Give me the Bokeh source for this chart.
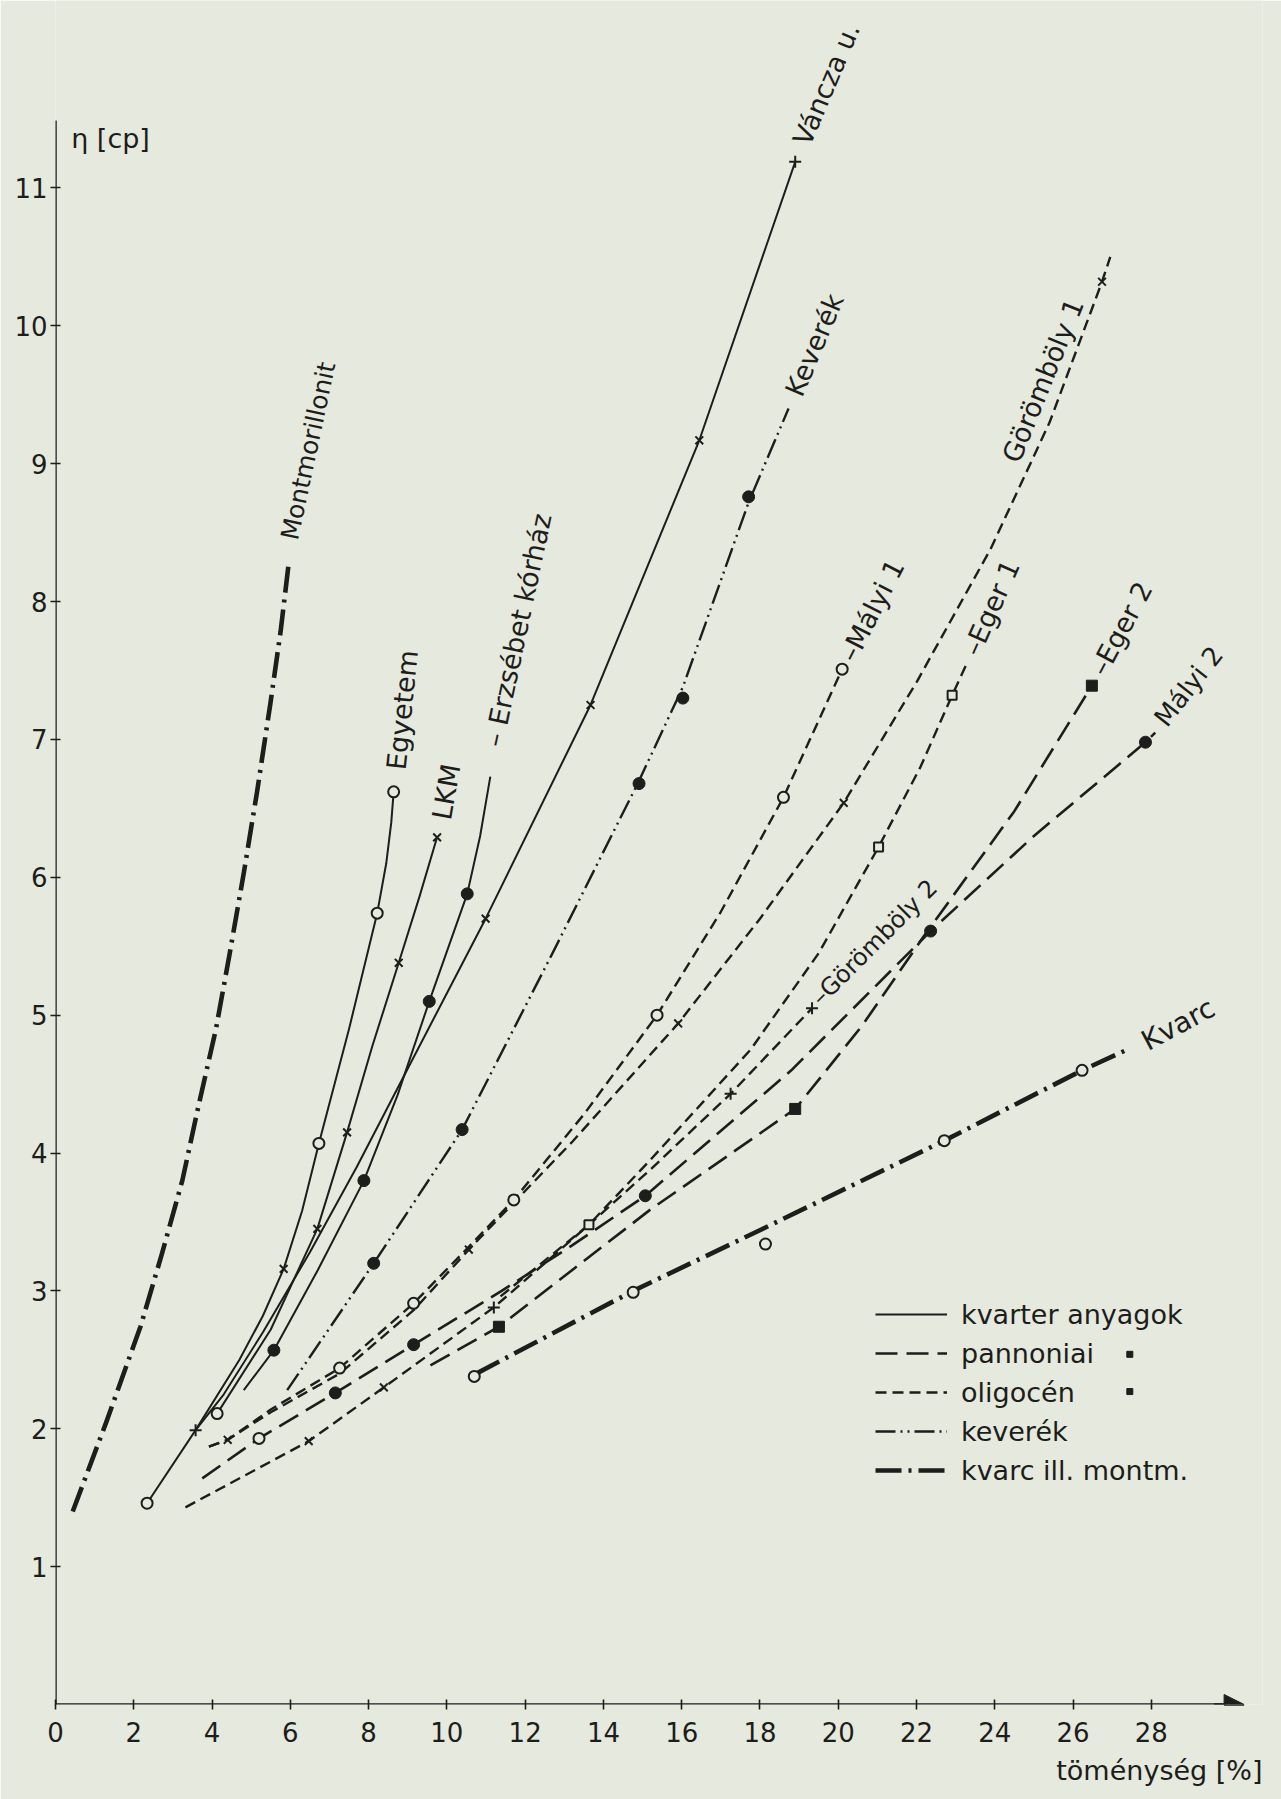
from bokeh.plotting import figure
from bokeh.models import (Range1d, FixedTicker, Label, Arrow, NormalHead, Title,
                          Legend, LegendItem, ColumnDataSource)
from bokeh.core.properties import value
from bokeh.embed import file_html
from bokeh.resources import INLINE

# ---------------- data ----------------
x_ticks = [0, 2, 4, 6, 8, 10, 12, 14, 16, 18, 20, 22, 24, 26, 28]
y_ticks = [1, 2, 3, 4, 5, 6, 7, 8, 9, 10, 11]

# kvarc ill. montm.
montm_x = [0.44, 1.30, 2.17, 2.70, 3.24, 3.66, 4.10, 4.44, 4.81, 5.15, 5.49, 5.75, 5.96]
montm_y = [1.40, 2.05, 2.74, 3.25, 3.80, 4.35, 4.90, 5.43, 6.03, 6.62, 7.26, 7.78, 8.28]
kvarc_x = [10.75, 14.76, 18.14, 22.71, 26.23, 27.46]
kvarc_y = [2.40, 3.00, 3.46, 4.09, 4.60, 4.76]

# kvarter anyagok
egyetem_x = [2.34, 3.58, 4.70, 5.30, 5.83, 6.30, 6.73, 7.50, 8.22, 8.45, 8.58, 8.64]
egyetem_y = [1.46, 1.99, 2.50, 2.82, 3.16, 3.58, 4.07, 4.90, 5.74, 6.10, 6.40, 6.62]
lkm_x = [4.13, 5.50, 6.69, 7.45, 8.10, 8.77, 9.30, 9.75]
lkm_y = [2.11, 2.72, 3.45, 4.15, 4.78, 5.38, 5.86, 6.29]
vancza_x = [3.58, 4.30, 5.30, 6.50, 7.70, 8.74, 10.99, 13.67, 16.45, 18.90]
vancza_y = [1.99, 2.25, 2.70, 3.28, 3.90, 4.47, 5.70, 7.25, 9.17, 11.19]
erzs_x = [4.81, 5.58, 6.70, 7.88, 8.74, 9.55, 10.52, 10.85, 11.11]
erzs_y = [2.28, 2.57, 3.15, 3.80, 4.42, 5.10, 5.88, 6.30, 6.73]

# keverék
kev_x = [5.92, 8.13, 10.39, 12.70, 14.91, 16.03, 17.71, 18.73]
kev_y = [2.28, 3.20, 4.17, 5.45, 6.70, 7.38, 8.72, 9.40]

# oligocén
malyi1_x = [3.92, 4.40, 5.50, 7.26, 9.15, 10.56, 11.71, 13.50, 15.37, 17.00, 18.60, 20.10]
malyi1_y = [1.87, 1.92, 2.14, 2.44, 2.91, 3.32, 3.66, 4.28, 5.00, 5.75, 6.58, 7.51]
gor1_x = [3.92, 4.40, 5.50, 7.26, 9.15, 10.56, 13.20, 15.91, 18.00, 20.14, 22.01, 23.89, 25.40, 26.74, 26.95]
gor1_y = [1.87, 1.92, 2.12, 2.40, 2.86, 3.30, 4.08, 4.94, 5.70, 6.54, 7.42, 8.38, 9.30, 10.32, 10.50]
gor2_x = [3.32, 6.47, 8.39, 11.20, 13.63, 15.20, 17.25, 19.33]
gor2_y = [1.43, 1.91, 2.30, 2.88, 3.48, 3.88, 4.43, 5.05]
eger1_x = [11.37, 13.63, 15.20, 17.76, 19.50, 21.03, 22.10, 22.91, 23.30]
eger1_y = [2.96, 3.48, 3.95, 4.75, 5.45, 6.22, 6.80, 7.32, 7.56]

# pannoniai
eger2_x = [9.58, 11.33, 15.20, 18.90, 20.60, 22.18, 24.50, 26.48]
eger2_y = [2.46, 2.74, 3.59, 4.32, 4.92, 5.57, 6.48, 7.39]
malyi2_x = [3.75, 5.20, 7.15, 9.15, 11.40, 13.20, 15.07, 18.80, 22.36, 25.00, 27.85, 28.10]
malyi2_y = [1.64, 1.93, 2.26, 2.61, 3.00, 3.33, 3.69, 4.60, 5.61, 6.30, 6.98, 7.05]

# measured points (markers)
open_circle_x = [2.34, 4.13, 5.20, 6.73, 8.22, 8.64, 7.26, 9.15, 11.71, 15.37, 18.60, 20.10,
                 10.70, 14.76, 18.14, 22.71, 26.23]
open_circle_y = [1.46, 2.11, 1.93, 4.07, 5.74, 6.62, 2.44, 2.91, 3.66, 5.00, 6.58, 7.51,
                 2.38, 2.99, 3.34, 4.09, 4.60]
dot_x = [5.58, 7.88, 9.55, 10.52, 8.13, 10.39, 14.91, 16.03, 17.71, 7.15, 9.15, 15.07, 22.36, 27.85]
dot_y = [2.57, 3.80, 5.10, 5.88, 3.20, 4.17, 6.68, 7.30, 8.76, 2.26, 2.61, 3.69, 5.61, 6.98]
xmark_x = [5.83, 6.69, 7.45, 8.77, 9.75, 10.99, 13.67, 16.45, 4.40, 10.56, 15.91, 20.14, 26.74, 6.47, 8.39]
xmark_y = [3.16, 3.45, 4.15, 5.38, 6.29, 5.70, 7.25, 9.17, 1.92, 3.30, 4.94, 6.54, 10.32, 1.91, 2.30]
plus_x = [3.58, 18.90, 11.20, 17.25, 19.33]
plus_y = [1.99, 11.19, 2.88, 4.43, 5.05]
open_square_x = [13.63, 21.03, 22.91]
open_square_y = [3.48, 6.22, 7.32]
filled_square_x = [11.33, 18.90, 26.48]
filled_square_y = [2.74, 4.32, 7.39]

legend_labels = ["kvarter anyagok", "pannoniai", "oligocén", "keverék", "kvarc ill. montm."]

# ---------------- styling / layout ----------------
INK = "#1d1d1b"
BG = "#e6e9dd"
FONT = "DejaVu Sans"

SOLID = dict(line_width=2.0, line_dash="solid")
OLIGO = dict(line_width=2.4, line_dash="11 6")
PANNON = dict(line_width=2.6, line_dash="22 9")
KEVER = dict(line_width=2.4, line_dash="20 5 2 5 2 5")
KVARC = dict(line_width=4.6, line_dash="26 7 3 7")

p = figure(width=1281, height=1799, x_range=Range1d(0, 30.84), y_range=Range1d(0, 12.36),
           output_backend="svg", toolbar_location=None,
           min_border_left=55, min_border_right=19, min_border_top=0, min_border_bottom=95,
           background_fill_color=BG, border_fill_color=BG, outline_line_color=None)
p.grid.visible = False

for ax in (p.xaxis[0], p.yaxis[0]):
    ax.major_tick_in = 5
    ax.major_tick_out = 5
    ax.minor_tick_in = 0
    ax.minor_tick_out = 0
    ax.major_tick_line_color = INK
    ax.major_tick_line_width = 1.6
    ax.major_label_text_font = FONT
    ax.major_label_text_font_size = "26px"
    ax.major_label_text_color = INK
    ax.axis_line_color = None
p.xaxis.ticker = FixedTicker(ticks=x_ticks)
p.yaxis.ticker = FixedTicker(ticks=y_ticks)
p.xaxis.major_label_standoff = 12
p.yaxis.major_label_standoff = 3

# axis lines (y axis stops below the frame top; x axis ends in an arrow)
p.segment(x0=[0, 0], y0=[0, 0], x1=[0, 29.9], y1=[11.49, 0], line_color=INK, line_width=2.5)
p.add_layout(Arrow(end=NormalHead(size=20, fill_color=INK, line_color=INK),
                   x_start=29.6, y_start=0, x_end=30.37, y_end=0,
                   line_color=INK, line_width=2.4))

series = [
    (montm_x, montm_y, KVARC),
    (kvarc_x, kvarc_y, KVARC),
    (egyetem_x, egyetem_y, SOLID),
    (lkm_x, lkm_y, SOLID),
    (vancza_x, vancza_y, SOLID),
    (erzs_x, erzs_y, SOLID),
    (kev_x, kev_y, KEVER),
    (malyi1_x, malyi1_y, OLIGO),
    (gor1_x, gor1_y, OLIGO),
    (gor2_x, gor2_y, OLIGO),
    (eger1_x, eger1_y, OLIGO),
    (eger2_x, eger2_y, PANNON),
    (malyi2_x, malyi2_y, PANNON),
]
renderers = []
for xs, ys, st in series:
    r = p.line(xs, ys, line_color=INK, line_cap="butt", line_join="round", **st)
    renderers.append(r)

# markers
p.scatter(open_circle_x, open_circle_y, marker="circle", size=11, fill_color=BG,
          line_color=INK, line_width=2)
p.scatter(dot_x, dot_y, marker="circle", size=12, fill_color=INK, line_color=INK)
p.scatter(xmark_x, xmark_y, marker="x", size=11, line_color=INK, line_width=2)
p.scatter(plus_x, plus_y, marker="cross", size=12, line_color=INK, line_width=2)
p.scatter(open_square_x, open_square_y, marker="square", size=9, fill_color=BG,
          line_color=INK, line_width=2)
p.scatter(filled_square_x, filled_square_y, marker="square", size=11, fill_color=INK,
          line_color=INK)

# curve labels (text, x, y, angle in degrees, font size)
curve_labels = [
    ("Montmorillonit", 5.98, 8.45, 78, 25),
    ("Egyetem", 8.70, 6.78, 84, 27),
    ("LKM", 9.86, 6.42, 80, 27),
    ("– Erzsébet kórház", 11.18, 6.95, 78, 27),
    ("Váncza u.", 19.05, 11.32, 67, 27),
    ("Keverék", 18.85, 9.50, 67, 27),
    ("Görömböly 1", 24.40, 9.02, 68, 27),
    ("–Mályi 1", 20.22, 7.58, 63, 27),
    ("–Eger 1", 23.38, 7.62, 66, 27),
    ("–Eger 2", 26.62, 7.48, 62, 27),
    ("Mályi 2", 28.22, 7.12, 52, 26),
    ("Kvarc", 27.80, 4.80, 28, 28),
    ("–Görömböly 2", 19.42, 5.10, 45, 24),
]
lab_src = ColumnDataSource(dict(
    t=[c[0] for c in curve_labels], x=[c[1] for c in curve_labels],
    y=[c[2] for c in curve_labels], a=[c[3] for c in curve_labels],
    fs=["%dpx" % c[4] for c in curve_labels]))
p.text(x="x", y="y", text="t", angle="a", angle_units="deg", source=lab_src,
       text_font=value(FONT), text_font_size="fs", text_color=INK,
       text_align="left", text_baseline="middle")

# axis titles
p.add_layout(Label(x=0.4, y=11.36, text="η [cp]", text_font=FONT, text_font_size="27px",
                   text_color=INK, text_baseline="middle"))
p.add_layout(Title(text="töménység [%]", align="right", text_font=FONT,
                   text_font_size="27px", text_font_style="normal", text_color=INK,
                   standoff=17), "below")

# legend
legend_renderers = [renderers[2], renderers[11], renderers[7], renderers[6], renderers[1]]
legend = Legend(items=[LegendItem(label=l, renderers=[r]) for l, r in zip(legend_labels, legend_renderers)],
                location=(820, 218), orientation="vertical",
                background_fill_alpha=0, border_line_alpha=0,
                glyph_width=72, glyph_height=32, label_height=32, label_standoff=14,
                spacing=7, padding=0, margin=0,
                label_text_font=FONT, label_text_font_size="27px", label_text_color=INK)
p.add_layout(legend, "center")
p.scatter([27.45, 27.45], [2.54, 2.27], marker="square", size=6, fill_color=INK, line_color=INK)

open("out.html", "w").write(file_html(p, INLINE))
